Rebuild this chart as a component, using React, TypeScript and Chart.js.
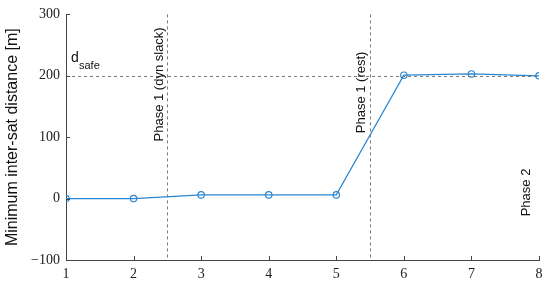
import React, { useEffect, useRef } from "react";
import { Chart, registerables } from "chart.js";

Chart.register(...registerables);

const xValues = [1, 2, 3, 4, 5, 6, 7, 8];
const distances = [0, 0, 6, 6, 6, 201, 203, 200];
const yTicks = [-100, 0, 100, 200, 300];
const xTicks = [1, 2, 3, 4, 5, 6, 7, 8];
const dSafe = 200;
const phaseBounds = [2.5, 5.5];
const phaseLabels = [
  { text: "Phase 1 (dyn slack)", x: 2.5, y: 186, dx: -4 },
  { text: "Phase 1 (rest)", x: 5.5, y: 173, dx: -5 },
  { text: "Phase 2", x: 8, y: 10, dx: -9 },
];

const serif = "'Liberation Serif', 'DejaVu Serif', serif";
const sans = "'Liberation Sans', Arial, sans-serif";

const overlay = {
  id: "overlay",
  afterDatasetsDraw(chart: any) {
    const { ctx, chartArea, scales } = chart;
    const xs = scales.x;
    const ys = scales.y;
    ctx.save();
    ctx.strokeStyle = "#7a7a7a";
    ctx.lineWidth = 1;
    ctx.setLineDash([3, 3]);
    const yp = Math.round(ys.getPixelForValue(dSafe)) + 0.5;
    ctx.beginPath();
    ctx.moveTo(chartArea.left, yp);
    ctx.lineTo(chartArea.right, yp);
    ctx.stroke();
    for (const b of phaseBounds) {
      const xp = Math.round(xs.getPixelForValue(b)) + 0.5;
      ctx.beginPath();
      ctx.moveTo(xp, chartArea.top);
      ctx.lineTo(xp, chartArea.bottom);
      ctx.stroke();
    }
    ctx.setLineDash([]);
    ctx.strokeStyle = "#444";
    for (const t of xTicks) {
      const xp = Math.round(xs.getPixelForValue(t)) + 0.5;
      ctx.beginPath();
      ctx.moveTo(xp, chartArea.bottom);
      ctx.lineTo(xp, chartArea.bottom - 4);
      ctx.stroke();
    }
    for (const t of yTicks) {
      const ypp = Math.round(ys.getPixelForValue(t)) + 0.5;
      ctx.beginPath();
      ctx.moveTo(chartArea.left, ypp);
      ctx.lineTo(chartArea.left + 4, ypp);
      ctx.stroke();
    }
    ctx.fillStyle = "#111";
    ctx.font = `14px ${sans}`;
    ctx.textAlign = "left";
    ctx.textBaseline = "alphabetic";
    ctx.fillText("d", 71, 62);
    ctx.font = `11px ${sans}`;
    ctx.fillText("safe", 79, 69);
    ctx.font = `13px ${sans}`;
    for (const p of phaseLabels) {
      const xp = xs.getPixelForValue(p.x) + p.dx;
      const ypp = ys.getPixelForValue(p.y);
      ctx.save();
      ctx.translate(xp, ypp);
      ctx.rotate(-Math.PI / 2);
      ctx.textAlign = "center";
      ctx.textBaseline = "alphabetic";
      ctx.fillText(p.text, 0, 0);
      ctx.restore();
    }
    ctx.restore();
  },
};

export default function App() {
  const ref = useRef<HTMLCanvasElement>(null);
  useEffect(() => {
    if (!ref.current) return;
    const chart = new Chart(ref.current, {
      type: "line",
      data: {
        datasets: [
          {
            data: xValues.map((x, i) => ({ x, y: distances[i] })),
            borderColor: "#2a86d0",
            borderWidth: 1.2,
            pointRadius: 3.2,
            pointBorderWidth: 1.2,
            pointBorderColor: "#2a86d0",
            pointBackgroundColor: "rgba(255,255,255,0)",
            tension: 0,
            fill: false,
          },
        ],
      },
      options: {
        responsive: false,
        animation: false,
        layout: { padding: { top: 8, right: 11, left: 0, bottom: 0 } },
        plugins: { legend: { display: false }, tooltip: { enabled: false } },
        scales: {
          x: {
            type: "linear",
            min: 1,
            max: 8,
            afterBuildTicks: (s: any) => {
              s.ticks = xTicks.map((v) => ({ value: v }));
            },
            afterFit: (s: any) => {
              s.height = 26;
            },
            grid: { display: false, drawTicks: false },
            border: { display: true, color: "#444", width: 1 },
            ticks: {
              color: "#222",
              font: { family: serif, size: 14 },
              padding: 6,
              maxRotation: 0,
            },
          },
          y: {
            type: "linear",
            min: -100,
            max: 300,
            afterBuildTicks: (s: any) => {
              s.ticks = yTicks.map((v) => ({ value: v }));
            },
            afterFit: (s: any) => {
              s.width = 66;
            },
            grid: { display: false, drawTicks: false },
            border: { display: true, color: "#444", width: 1 },
            title: {
              display: true,
              text: "Minimum inter-sat distance [m]",
              color: "#111",
              font: { family: sans, size: 16 },
              padding: { top: 3, bottom: 0 },
            },
            ticks: {
              color: "#222",
              font: { family: serif, size: 14 },
              padding: 6,
              callback: (v: any) => (Number(v) < 0 ? "\u2212" + Math.abs(Number(v)) : String(v)),
            },
          },
        },
      },
      plugins: [overlay],
    } as any);
    return () => chart.destroy();
  }, []);
  return (
    <div style={{ position: "fixed", left: 0, top: 0, width: 550, height: 286, background: "#fff" }}>
      <canvas ref={ref} width={550} height={286} style={{ width: 550, height: 286 }} />
    </div>
  );
}
